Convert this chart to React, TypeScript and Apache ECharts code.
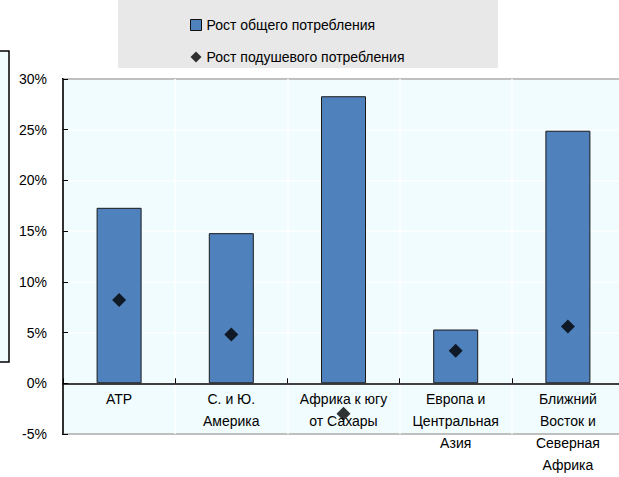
import React, { useEffect, useRef } from "react";
import * as echarts from "echarts";

const categories = [
  "АТР",
  "С. и Ю.\nАмерика",
  "Африка к югу\nот Сахары",
  "Европа и\nЦентральная\nАзия",
  "Ближний\nВосток и\nСеверная\nАфрика",
];
const totalGrowth = [17.3, 14.8, 28.3, 5.3, 24.9];
const perCapitaGrowth = [8.2, 4.8, -3.0, 3.2, 5.6];
const seriesNames = ["Рост общего потребления", "Рост подушевого потребления"];

const FONT = "'Liberation Sans', Arial, sans-serif";

export default function App() {
  const ref = useRef<HTMLDivElement>(null);
  useEffect(() => {
    if (!ref.current) return;
    const chart = echarts.init(ref.current, null, { renderer: "svg" });
    chart.setOption({
      animation: false,
      textStyle: { fontFamily: FONT },
      graphic: [
        {
          type: "rect",
          shape: { x: 118, y: 0, width: 380, height: 68 },
          style: { fill: "#e8e8e8" },
          z: -10,
        },
        {
          type: "rect",
          shape: { x: -2, y: 51, width: 11, height: 311 },
          style: { fill: "#f0fcfe", stroke: "#000", lineWidth: 1.5 },
        },
      ],
      legend: {
        orient: "vertical",
        left: 185,
        top: 13,
        itemWidth: 11,
        itemHeight: 11,
        itemGap: 18,
        textStyle: { fontFamily: FONT, fontSize: 14, color: "#000" },
        data: [
          { name: seriesNames[0], icon: "rect", itemStyle: { color: "#4f81bd", borderColor: "#111", borderWidth: 1 } },
          { name: seriesNames[1], icon: "diamond", itemStyle: { color: "#000" } },
        ],
      },
      grid: {
        left: 63,
        top: 79,
        width: 561,
        height: 355,
        show: true,
        backgroundColor: "#f0fcfe",
        borderColor: "#000",
        borderWidth: 2,
        containLabel: false,
        outerBoundsMode: "none",
      },
      xAxis: {
        type: "category",
        data: categories,
        axisLine: { onZero: true, lineStyle: { color: "#000", width: 1.5 } },
        axisTick: { show: true, inside: true, length: 5, lineStyle: { color: "#000" } },
        splitLine: { show: true, lineStyle: { color: "#ffffff", width: 1.5 } },
        axisLabel: {
          color: "#000",
          fontSize: 14,
          lineHeight: 22,
          margin: -46,
          interval: 0,
          hideOverlap: false,
          fontFamily: FONT,
        },
      },
      yAxis: {
        type: "value",
        min: -5,
        max: 30,
        interval: 5,
        axisLine: { show: true, lineStyle: { color: "#000", width: 1.5 } },
        axisTick: { show: true, inside: true, length: 5, lineStyle: { color: "#000" } },
        splitLine: { show: true, lineStyle: { color: "#ffffff", width: 1.5 } },
        axisLabel: {
          color: "#000",
          fontSize: 14,
          margin: 16,
          formatter: (v: number) => `${v}%`,
          fontFamily: FONT,
        },
      },
      series: [
        {
          name: seriesNames[0],
          type: "bar",
          data: totalGrowth,
          barWidth: 45,
          itemStyle: { color: "#4f81bd", borderColor: "#1a1a1a", borderWidth: 1 },
          z: 2,
        },
        {
          name: seriesNames[1],
          type: "scatter",
          data: perCapitaGrowth,
          symbol: "diamond",
          symbolSize: 14,
          itemStyle: { color: "#000" },
          z: 5,
        },
      ],
    });
    return () => chart.dispose();
  }, []);
  return (
    <div
      ref={ref}
      style={{ position: "fixed", left: 0, top: 0, width: 619, height: 477, background: "#fff" }}
    />
  );
}
